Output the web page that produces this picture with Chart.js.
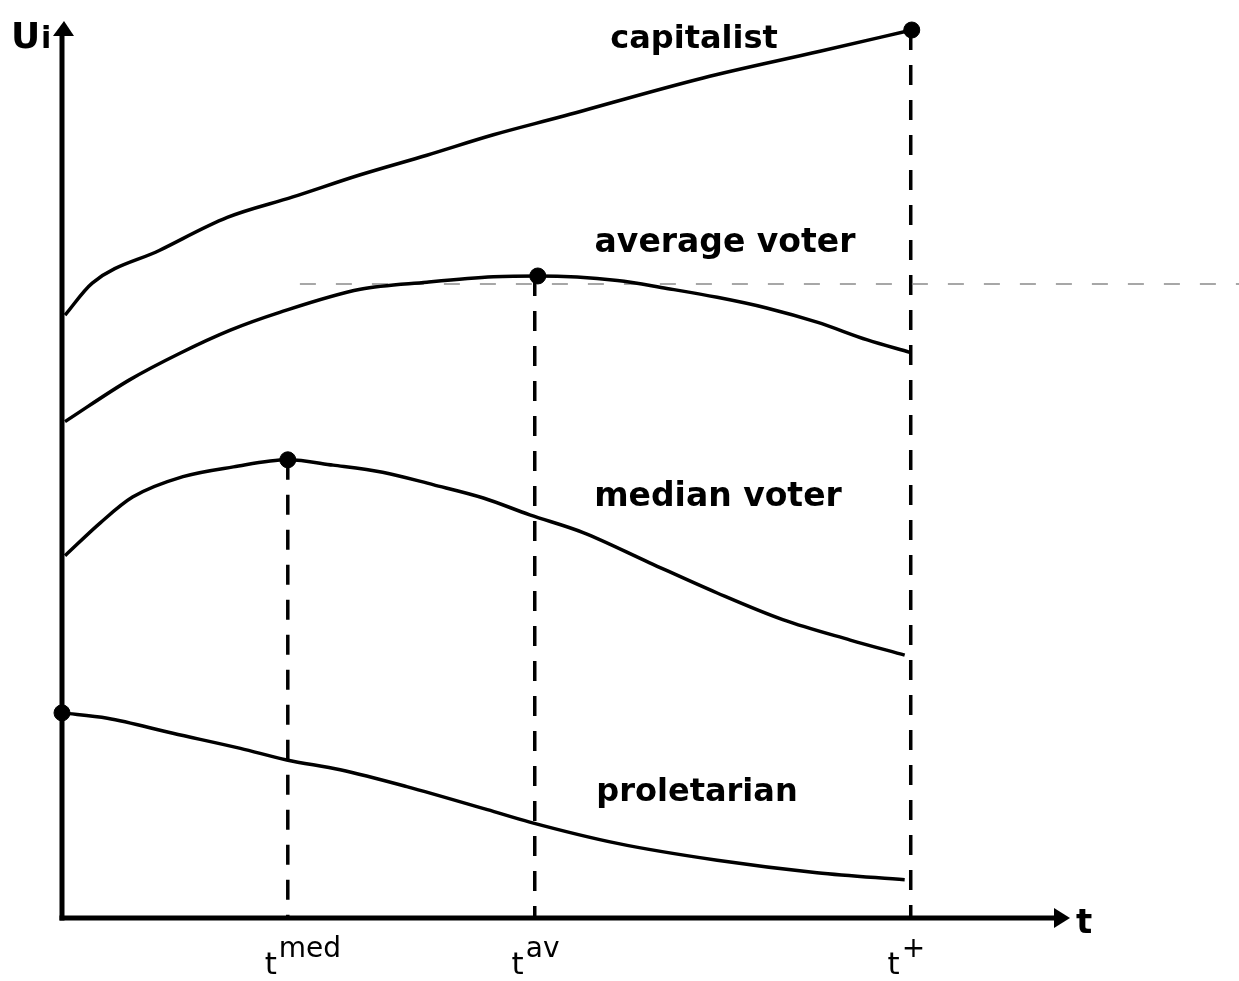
<!DOCTYPE html>
<html>
<head>
<meta charset="utf-8">
<script src="https://cdn.jsdelivr.net/npm/chart.js@4.4.1/dist/chart.umd.min.js"></script>
<style>
    html, body { margin: 0; padding: 0; background: #fff; }
    #wrap { width: 1239px; height: 981px; position: relative; }
</style>
</head>
<body>
<div id="wrap"><canvas id="chart"></canvas></div>
<script>
// t runs 0..100 along the axis, Ui runs 0..100 up the axis

// capitalist
const capitalistT = [0.3, 3.0, 9.7, 16.4, 22.9, 29.6, 36.2, 42.8, 49.4, 63.6, 75.2, 84.3];
const capitalistU = [67.9, 71.5, 75.2, 78.9, 81.2, 83.7, 85.9, 88.2, 90.2, 94.6, 97.6, 100];

// average voter
const averageT = [0.3, 6.7, 11.7, 16.7, 21.6, 29.6, 36.2, 42.8, 47.2, 55.1, 60.0, 65.0, 69.9, 74.9, 79.9, 84.1];
const averageU = [55.9, 60.6, 63.6, 66.2, 68.2, 70.8, 71.6, 72.2, 72.3, 71.8, 70.9, 69.9, 68.7, 67.1, 65.1, 63.7];

// median voter
const medianT = [0.3, 3.8, 7.0, 12.0, 17.0, 22.4, 26.9, 31.8, 36.8, 41.8, 46.4, 51.7, 58.3, 65.0, 71.5, 78.2, 83.6];
const medianU = [40.8, 44.5, 47.4, 49.7, 50.8, 51.6, 51.0, 50.2, 48.8, 47.3, 45.4, 43.4, 40.0, 36.6, 33.6, 31.3, 29.6];

// proletarian
const proletarianT = [0, 4.5, 11.0, 17.7, 22.3, 27.6, 34.2, 42.2, 46.4, 55.1, 65.0, 74.9, 83.6];
const proletarianU = [23.1, 22.5, 20.8, 19.1, 17.8, 16.7, 14.8, 12.2, 10.8, 8.4, 6.5, 5.1, 4.3];

// marked optimum points
const peakT = [84.3, 47.2, 22.4, 0];
const peakU = [100, 72.3, 51.6, 23.1];

// t ticks on the horizontal axis
const tickT = [22.4, 46.9, 84.2];
const tickTop = [51.6, 72.3, 100];
const tickNames = ['med', 'av', '+'];

const seriesNames = ['capitalist', 'average voter', 'median voter', 'proletarian'];

// faint scanned guide line
const guideT = [23.6, 116.8];
const guideU = [71.4, 71.4];

function toPoints(ts, us) {
    return ts.map((t, i) => ({ x: t, y: us[i] }));
}

const curveStyle = {
    borderColor: '#000',
    borderWidth: 3.5,
    pointRadius: 0,
    fill: false,
    cubicInterpolationMode: 'monotone',
    clip: false
};

const datasets = [
    { label: seriesNames[0], data: toPoints(capitalistT, capitalistU), ...curveStyle },
    { label: seriesNames[1], data: toPoints(averageT, averageU), ...curveStyle },
    { label: seriesNames[2], data: toPoints(medianT, medianU), ...curveStyle },
    { label: seriesNames[3], data: toPoints(proletarianT, proletarianU), ...curveStyle },
    {
        label: 'guide',
        data: toPoints(guideT, guideU),
        borderColor: '#8a8a8a',
        borderWidth: 1.5,
        borderDash: [16, 20],
        pointRadius: 0,
        clip: false
    },
    {
        label: 'optimum',
        type: 'scatter',
        data: toPoints(peakT, peakU),
        pointRadius: 8,
        pointBackgroundColor: '#000',
        pointBorderColor: '#000',
        clip: false
    }
];

// dashed drop lines from each tick
tickT.forEach((t, i) => {
    datasets.push({
        label: 'drop ' + tickNames[i],
        data: [{ x: t, y: tickTop[i] }, { x: t, y: 0 }],
        borderColor: '#000',
        borderWidth: 3.5,
        borderDash: [20, 15],
        pointRadius: 0,
        clip: false
    });
});

// axes with arrows, axis labels and curve names
const axisPlugin = {
    id: 'axisPlugin',
    afterDatasetsDraw(chart) {
        const { ctx, chartArea: a, scales } = chart;
        const x0 = scales.x.getPixelForValue(0);
        const y0 = scales.y.getPixelForValue(0);
        ctx.save();
        ctx.strokeStyle = '#000';
        ctx.fillStyle = '#000';
        ctx.lineWidth = 5;
        ctx.lineCap = 'butt';

        // vertical axis
        ctx.beginPath();
        ctx.moveTo(x0, y0 + 2.5);
        ctx.lineTo(x0, a.top);
        ctx.stroke();
        ctx.beginPath();
        ctx.moveTo(x0 + 2, a.top - 9);
        ctx.lineTo(x0 - 9, a.top + 6);
        ctx.lineTo(x0 + 12, a.top + 6);
        ctx.closePath();
        ctx.fill();

        // horizontal axis
        ctx.beginPath();
        ctx.moveTo(x0 - 2.5, y0);
        ctx.lineTo(a.right - 10, y0);
        ctx.stroke();
        ctx.beginPath();
        ctx.moveTo(a.right, y0);
        ctx.lineTo(a.right - 16, y0 - 10);
        ctx.lineTo(a.right - 16, y0 + 10);
        ctx.closePath();
        ctx.fill();

        // axis names
        ctx.textBaseline = 'alphabetic';
        ctx.textAlign = 'left';
        ctx.font = 'bold 36px "DejaVu Sans"';
        ctx.fillText('U', 11, 48);
        ctx.font = 'bold 30px "DejaVu Sans"';
        ctx.fillText('i', 41, 48);
        ctx.font = 'bold 34px "DejaVu Sans"';
        ctx.fillText('t', a.right + 6, y0 + 15);

        // tick labels: t with superscript
        tickT.forEach((t, i) => {
            const px = scales.x.getPixelForValue(t);
            ctx.font = '31px "DejaVu Sans"';
            ctx.textAlign = 'right';
            ctx.fillText('t', px - 11, y0 + 56);
            ctx.textAlign = 'left';
            ctx.font = '28px "DejaVu Sans"';
            ctx.fillText(tickNames[i], px - 9, y0 + 39);
        });

        // curve names
        const namePos = [[694, 40], [725, 243], [718, 497], [697, 793]];
        const nameSize = [32, 33, 33, 32];
        ctx.textAlign = 'center';
        ctx.textBaseline = 'middle';
        seriesNames.forEach((n, i) => {
            ctx.font = 'bold ' + nameSize[i] + 'px "DejaVu Sans"';
            ctx.fillText(n, namePos[i][0], namePos[i][1]);
        });
        ctx.restore();
    }
};

new Chart(document.getElementById('chart'), {
    type: 'line',
    data: { datasets },
    options: {
        responsive: true,
        maintainAspectRatio: false,
        animation: false,
        layout: { padding: { left: 62, right: 169, top: 30, bottom: 63 } },
        plugins: {
            legend: { display: false },
            tooltip: { enabled: false }
        },
        scales: {
            x: { type: 'linear', min: 0, max: 100, display: false },
            y: { type: 'linear', min: 0, max: 100, display: false }
        }
    },
    plugins: [axisPlugin]
});
</script>
</body>
</html>
